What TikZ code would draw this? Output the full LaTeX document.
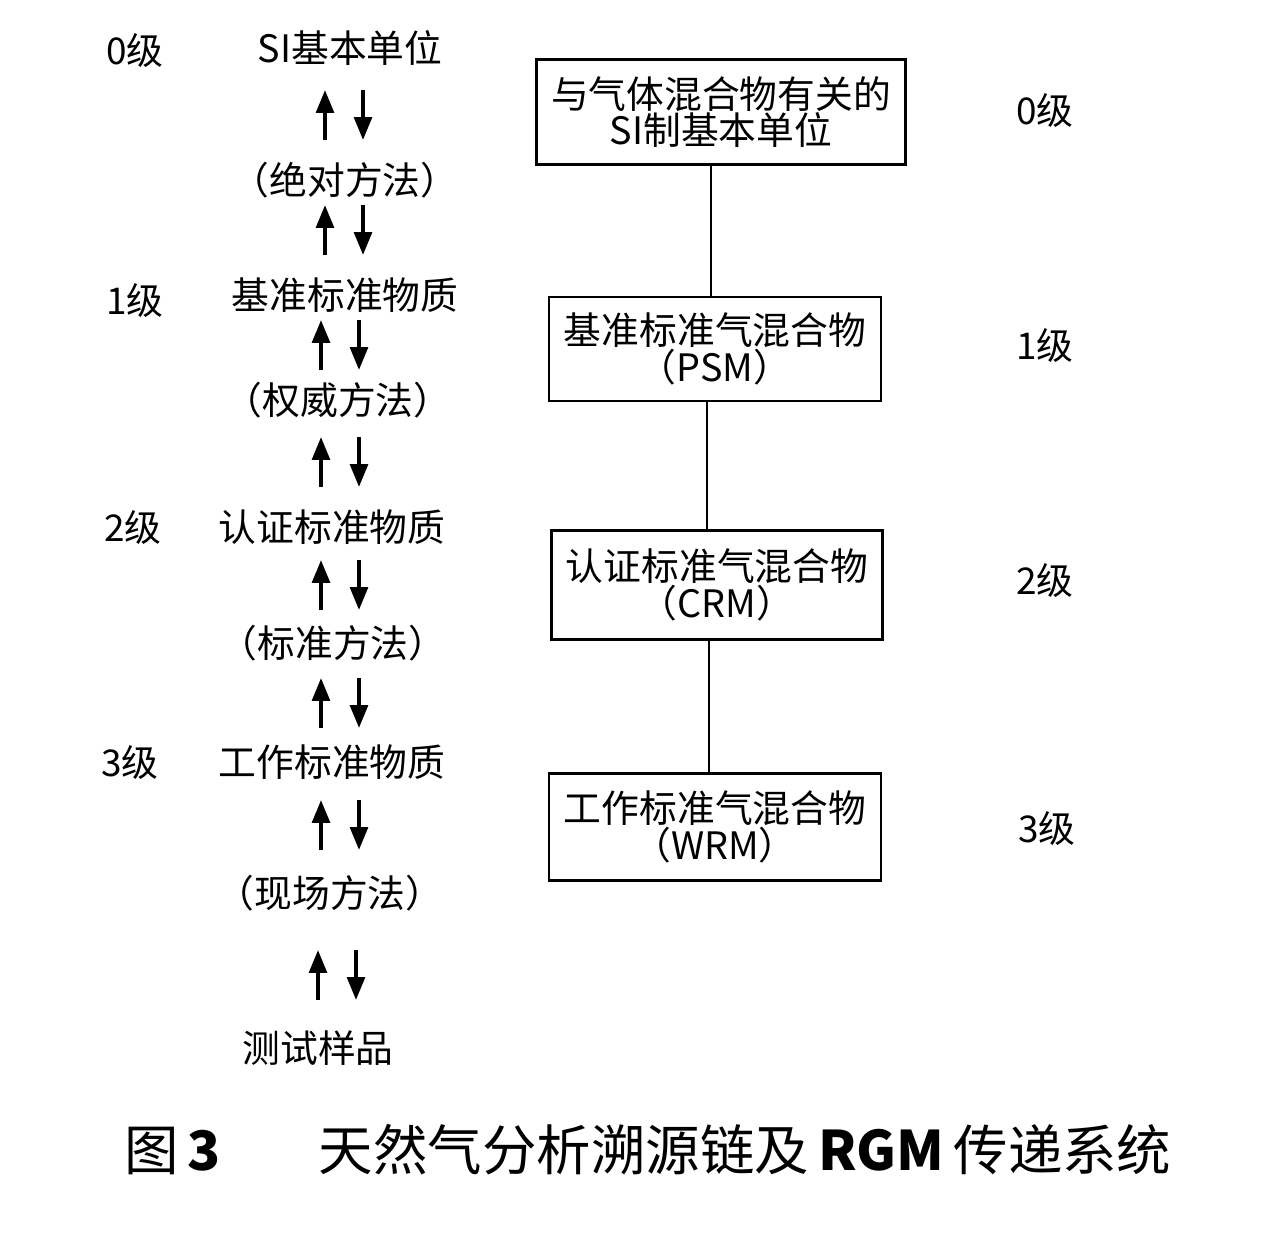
\documentclass[tikz,border=0pt]{standalone}
\usepackage{fontspec}
\setmainfont{Liberation Serif}
\newfontfamily\cjk{Noto Sans CJK SC}
\usetikzlibrary{arrows.meta}
\tikzset{
    txt/.style={font=\cjk\fontsize{21.5}{23}\selectfont, inner sep=1pt},
    lvl/.style={font=\cjk\fontsize{21}{23}\selectfont, inner sep=1pt},
    stdbox/.style={draw, line width=1.2pt, font=\cjk\fontsize{21.5}{20}\selectfont, align=center, inner sep=0pt},
    updown/.style={line width=2.2pt, -{Triangle[length=13pt, width=10pt]}},
}
\begin{document}
\begin{tikzpicture}[x=0.02cm, y=-0.02cm]
    \useasboundingbox (0,0) rectangle (1287,1232);
    % left chain
    \node[lvl] (l0) at (135,50) {0级};
    \node[txt] (t0) at (350,48) {SI基本单位};
    \node[txt] (m0) at (345,180) {（绝对方法）};
    \node[lvl] (l1) at (135,300) {1级};
    \node[txt] (t1) at (345,295) {基准标准物质};
    \node[txt] (m1) at (338,400) {（权威方法）};
    \node[lvl] (l2) at (133,527) {2级};
    \node[txt] (t2) at (332,527) {认证标准物质};
    \node[txt] (m2) at (333,643) {（标准方法）};
    \node[lvl] (l3) at (130,762) {3级};
    \node[txt] (t3) at (332,762) {工作标准物质};
    \node[txt] (m3) at (330,893) {（现场方法）};
    \node[txt] (ts) at (318,1048) {测试样品};

    \foreach \x/\y in {344/115,344/230,340/345,340/462,340/585,340/703,340/825,337/975} {
            \draw[updown] (\x-19,\y+25) -- (\x-19,\y-25);
            \draw[updown] (\x+19,\y-25) -- (\x+19,\y+25);
        }

    % right boxes
    \node[stdbox, minimum width=369*0.02cm, minimum height=105*0.02cm] (b0) at (721,112)
        {与气体混合物有关的\\SI制基本单位};
    \node[stdbox, minimum width=332*0.02cm, minimum height=104*0.02cm] (b1) at (715,349)
        {基准标准气混合物\\（PSM）};
    \node[stdbox, minimum width=331*0.02cm, minimum height=109*0.02cm] (b2) at (717,585)
        {认证标准气混合物\\（CRM）};
    \node[stdbox, minimum width=332*0.02cm, minimum height=107*0.02cm] (b3) at (715,827)
        {工作标准气混合物\\（WRM）};
    \draw[line width=1.2pt] (711,165) -- (b1.north -| 711,0);
    \draw[line width=1.2pt] (707,401) -- (b2.north -| 707,0);
    \draw[line width=1.2pt] (709,640) -- (b3.north -| 709,0);

    \node[lvl] (r0) at (1045,110) {0级};
    \node[lvl] (r1) at (1045,345) {1级};
    \node[lvl] (r2) at (1045,580) {2级};
    \node[lvl] (r3) at (1047,828) {3级};

    % caption
    \node[font=\cjk\fontsize{31}{33}\selectfont, anchor=west] (cap) at (118,1150)
        {图\,\textbf{3}\hspace{1.8em}天然气分析溯源链及\,\textbf{RGM}\,传递系统};
\end{tikzpicture}
\end{document}
